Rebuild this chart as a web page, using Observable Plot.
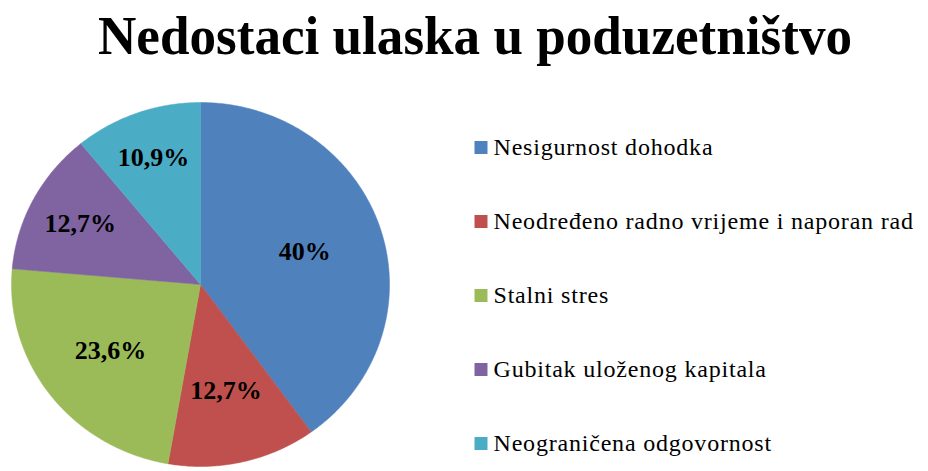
<!DOCTYPE html>
<html>
<head>
<meta charset="utf-8">
<script src="https://cdn.jsdelivr.net/npm/d3@7"></script>
<script src="https://cdn.jsdelivr.net/npm/@observablehq/plot@0.6"></script>
<style>
  body { margin: 0; background: #fff; font-family: "Times New Roman", "Liberation Serif", serif; }
  #wrap { position: relative; width: 928px; height: 471px; overflow: hidden; }
  #title { position: absolute; top: 9px; left: 98px; white-space: nowrap; font-weight: bold; font-size: 54px; line-height: 1; font-family: "Liberation Serif", serif; transform-origin: 0 0; }
  #chart { position: absolute; left: 0; top: 80px; }
  #legend { position: absolute; left: 460px; top: 80px; }
</style>
</head>
<body>
<div id="wrap">
<div id="title">Nedostaci ulaska u poduzetništvo</div>
<div id="chart"></div>
<div id="legend"></div>
</div>
<script>
const categories = ["Nesigurnost dohodka", "Neodređeno radno vrijeme i naporan rad", "Stalni stres", "Gubitak uloženog kapitala", "Neograničena odgovornost"];
const values = [40, 12.7, 23.6, 12.7, 10.9];
const labels = ["40%", "12,7%", "23,6%", "12,7%", "10,9%"];
const colors = ["#4F81BD", "#C0504D", "#9BBB59", "#8064A2", "#4BACC6"];

// title width fitted with canvas measurement (no forced layout)
const ctx = document.createElement("canvas").getContext("2d");
ctx.font = "bold 54px 'Liberation Serif'";
const tw = ctx.measureText(document.getElementById("title").textContent).width;
document.getElementById("title").style.transform = `scaleX(${754 / tw})`;

const arcs = d3.pie().sort(null).value(d => d)(values);
// polygon points for each slice (angle from 12 o'clock, clockwise)
const pts = [];
arcs.forEach((a, i) => {
  const n = Math.max(4, Math.ceil((a.endAngle - a.startAngle) / 0.01));
  pts.push({slice: categories[i], x: 0, y: 0});
  for (let k = 0; k <= n; k++) {
    const t = a.startAngle + (a.endAngle - a.startAngle) * k / n;
    pts.push({slice: categories[i], x: Math.sin(t), y: Math.cos(t)});
  }
  pts.push({slice: categories[i], x: 0, y: 0});
});
const labelFrac = [0.58, 0.6, 0.6, 0.72, 0.74];
const labelData = arcs.map((a, i) => {
  const m = (a.startAngle + a.endAngle) / 2;
  return {label: labels[i], x: Math.sin(m) * labelFrac[i], y: Math.cos(m) * labelFrac[i]};
});

const color = {domain: categories, range: colors};

const legendPlot = Plot.plot({
  width: 468,
  height: 391,
  margin: 0,
  y: {type: "point", domain: categories, range: [66, 363], padding: 0, axis: null},
  color,
  marks: [
    Plot.dot(categories, {y: d => d, frameAnchor: "left", dx: 20.5, symbol: "square", r: 7.33, fill: d => d, stroke: null}),
    Plot.text(categories, {y: d => d, text: d => d, frameAnchor: "left", dx: 33, textAnchor: "start", fontSize: 24, fill: "#000", fontFamily: "Times New Roman"})
  ],
  style: {letterSpacing: "0.8px", fontFamily: "Times New Roman"}
});
document.getElementById("legend").appendChild(legendPlot);

const pie = Plot.plot({
  width: 400,
  height: 391,
  margin: 0,
  x: {domain: [-1, 1], range: [11, 389], axis: null},
  y: {domain: [-1, 1], range: [386, 22], axis: null},
  color,
  marks: [
    Plot.line(pts, {x: "x", y: "y", z: "slice", fill: "slice", stroke: "slice", strokeWidth: 0.5, curve: "linear"}),
    Plot.text(labelData, {x: "x", y: "y", text: "label", fontSize: 26, fontWeight: "bold", fill: "#000", fontFamily: "Liberation Serif"})
  ]
});
document.getElementById("chart").appendChild(pie);
</script>
</body>
</html>
